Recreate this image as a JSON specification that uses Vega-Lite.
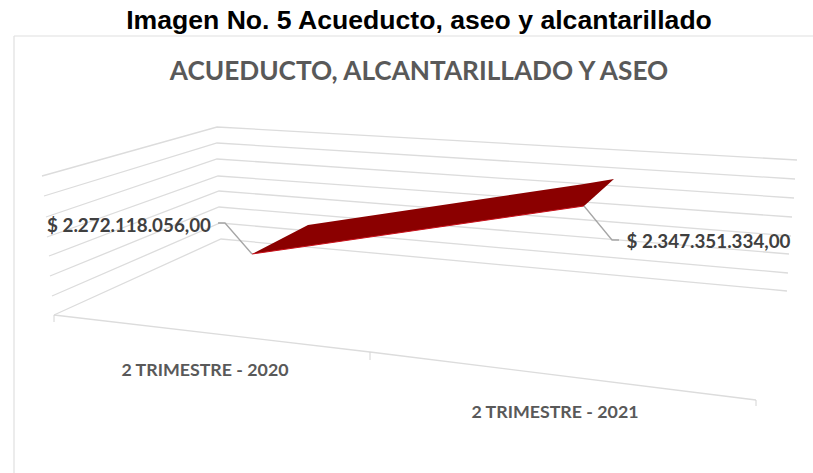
{
"$schema":"https://vega.github.io/schema/vega-lite/v6.json",
"width":813,"height":473,"padding":0,"autosize":{"type":"none"},
"background":"white",
"view":{"stroke":null},
"datasets":{
"grid":[
{"level":1,"px":42,"py":176},{"level":1,"px":217,"py":127},{"level":1,"px":797,"py":160},
{"level":2,"px":44,"py":196},{"level":2,"px":217,"py":143},{"level":2,"px":795,"py":179},
{"level":3,"px":46,"py":217},{"level":3,"px":217,"py":159},{"level":3,"px":794,"py":198},
{"level":4,"px":47,"py":237},{"level":4,"px":218,"py":176},{"level":4,"px":792,"py":217},
{"level":5,"px":49,"py":256},{"level":5,"px":219,"py":191},{"level":5,"px":791,"py":236},
{"level":6,"px":50,"py":276},{"level":6,"px":219,"py":207},{"level":6,"px":789,"py":254},
{"level":7,"px":52,"py":296},{"level":7,"px":220,"py":223},{"level":7,"px":788,"py":273},
{"level":8,"px":54,"py":315},{"level":8,"px":221,"py":239},{"level":8,"px":787,"py":291}
],
"floor":[{"px":54,"py":315},{"px":370,"py":352},{"px":756,"py":400}],
"ticks":[{"px":54,"py":315,"py2":322},{"px":370,"py":352,"py2":360},{"px":756,"py":400,"py2":406}],
"frame":[{"px":14,"py":36,"px2":813,"py2":36},{"px":14,"py":36,"px2":14,"py2":473}],
"ribbon":[
{"px":252,"top":254,"bottom":254},
{"px":308,"top":225,"bottom":246},
{"px":584,"top":184,"bottom":206},
{"px":614,"top":179,"bottom":179}
],
"edge":[{"px":252,"py":254},{"px":308,"py":246},{"px":584,"py":206}],
"leaders":[
{"id":"a","ord":1,"px":218,"py":223},{"id":"a","ord":2,"px":225,"py":223},{"id":"a","ord":3,"px":252,"py":254},
{"id":"b","ord":1,"px":584,"py":206},{"id":"b","ord":2,"px":612,"py":240},{"id":"b","ord":3,"px":619,"py":240}
],
"values":[
{"label":"$ 2.272.118.056,00","px":129,"py":225.5},
{"label":"$ 2.347.351.334,00","px":708.5,"py":242}
],
"cats":[
{"label":"2 TRIMESTRE - 2020","px":205,"py":370.5},
{"label":"2 TRIMESTRE - 2021","px":555,"py":413}
]
},
"encoding":{
"x":{"field":"px","type":"quantitative","axis":null,"scale":{"domain":[0,813],"nice":false,"zero":false}}
},
"layer":[
{"data":{"name":"frame"},"mark":{"type":"rule","color":"#e0e0e0","strokeWidth":1.2},
"encoding":{"y":{"field":"py","type":"quantitative","axis":null,"scale":{"domain":[473,0],"nice":false,"zero":false}},"x2":{"field":"px2"},"y2":{"field":"py2"}}},
{"data":{"name":"grid"},"mark":{"type":"line","color":"#dcdcdc","strokeWidth":1.3},
"encoding":{"y":{"field":"py","type":"quantitative","axis":null},"detail":{"field":"level"}}},
{"data":{"name":"floor"},"mark":{"type":"line","color":"#dcdcdc","strokeWidth":1.4},
"encoding":{"y":{"field":"py","type":"quantitative","axis":null}}},
{"data":{"name":"ticks"},"mark":{"type":"rule","color":"#d4d4d4","strokeWidth":1},
"encoding":{"y":{"field":"py","type":"quantitative","axis":null},"y2":{"field":"py2"}}},
{"data":{"name":"ribbon"},"mark":{"type":"area","color":"#8b0000"},
"encoding":{"y":{"field":"top","type":"quantitative","axis":null},"y2":{"field":"bottom"}}},
{"data":{"name":"edge"},"mark":{"type":"line","color":"#c8101a","strokeWidth":1},
"encoding":{"y":{"field":"py","type":"quantitative","axis":null}}},
{"data":{"name":"leaders"},"mark":{"type":"line","color":"#a6a6a6","strokeWidth":1.3},
"encoding":{"y":{"field":"py","type":"quantitative","axis":null},"detail":{"field":"id"},"order":{"field":"ord"}}},
{"data":{"name":"values"},"mark":{"type":"text","font":"Lato","fontSize":18.8,"fontWeight":700,"color":"#404040","align":"center","baseline":"middle"},
"encoding":{"y":{"field":"py","type":"quantitative","axis":null},"text":{"field":"label"}}},
{"data":{"name":"cats"},"mark":{"type":"text","font":"Lato","fontSize":17.8,"fontWeight":700,"color":"#595959","align":"center","baseline":"middle"},
"encoding":{"y":{"field":"py","type":"quantitative","axis":null},"text":{"field":"label"}}},
{"data":{"values":[{"label":"ACUEDUCTO, ALCANTARILLADO Y ASEO","px":419,"py":71.5}]},"mark":{"type":"text","font":"Lato","fontSize":26.2,"fontWeight":700,"color":"#595959","align":"center","baseline":"middle"},
"encoding":{"y":{"field":"py","type":"quantitative","axis":null},"text":{"field":"label"}}},
{"data":{"values":[{"label":"Imagen No. 5 Acueducto, aseo y alcantarillado","px":419,"py":21}]},"mark":{"type":"text","font":"Liberation Sans","fontSize":26.6,"fontWeight":700,"color":"#000000","align":"center","baseline":"middle"},
"encoding":{"y":{"field":"py","type":"quantitative","axis":null},"text":{"field":"label"}}}
]
}
